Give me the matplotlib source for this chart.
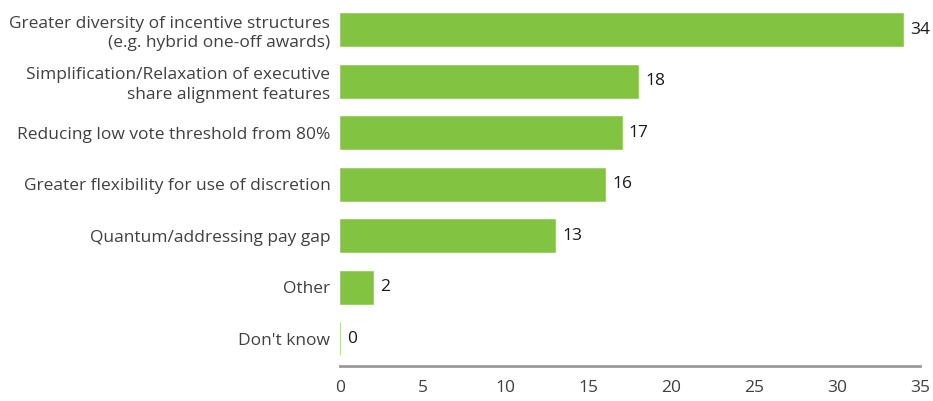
import matplotlib.pyplot as plt

categories = ["Greater diversity of incentive structures\n(e.g. hybrid one-off awards)",
              "Simplification/Relaxation of executive\nshare alignment features",
              "Reducing low vote threshold from 80%",
              "Greater flexibility for use of discretion",
              "Quantum/addressing pay gap",
              "Other",
              "Don't know"]
values = [34, 18, 17, 16, 13, 2, 0]
xticks = [0, 5, 10, 15, 20, 25, 30, 35]

plt.rcParams['font.family'] = ['Open Sans', 'DejaVu Sans']

fig = plt.figure(figsize=(9.33, 4.01), dpi=100)
ax = fig.add_axes([340/933, 35/401, 580/933, 362/401])

bars = ax.barh(range(len(values)), values, height=0.64, color='#82C341',
               edgecolor='#82C341', linewidth=0.4)
ax.bar_label(bars, labels=[str(v) for v in values], padding=5,
             fontsize=12.5, color='#1a1a1a')

ax.set_yticks(range(len(values)))
ax.set_yticklabels(categories, fontsize=12.5, color='#404040', linespacing=1.3)
ax.set_ylim(6.53, -0.5)
ax.set_xlim(0, 35)
ax.set_xticks(xticks)
ax.set_xticklabels([str(t) for t in xticks], fontsize=12.5, color='#404040')

for s in ['top', 'right', 'left']:
    ax.spines[s].set_visible(False)
ax.spines['bottom'].set_color('#999999')
ax.spines['bottom'].set_linewidth(2)
ax.tick_params(axis='both', length=0)
ax.tick_params(axis='x', pad=10)
ax.tick_params(axis='y', pad=7)

fig.savefig('out.png', dpi=100)
